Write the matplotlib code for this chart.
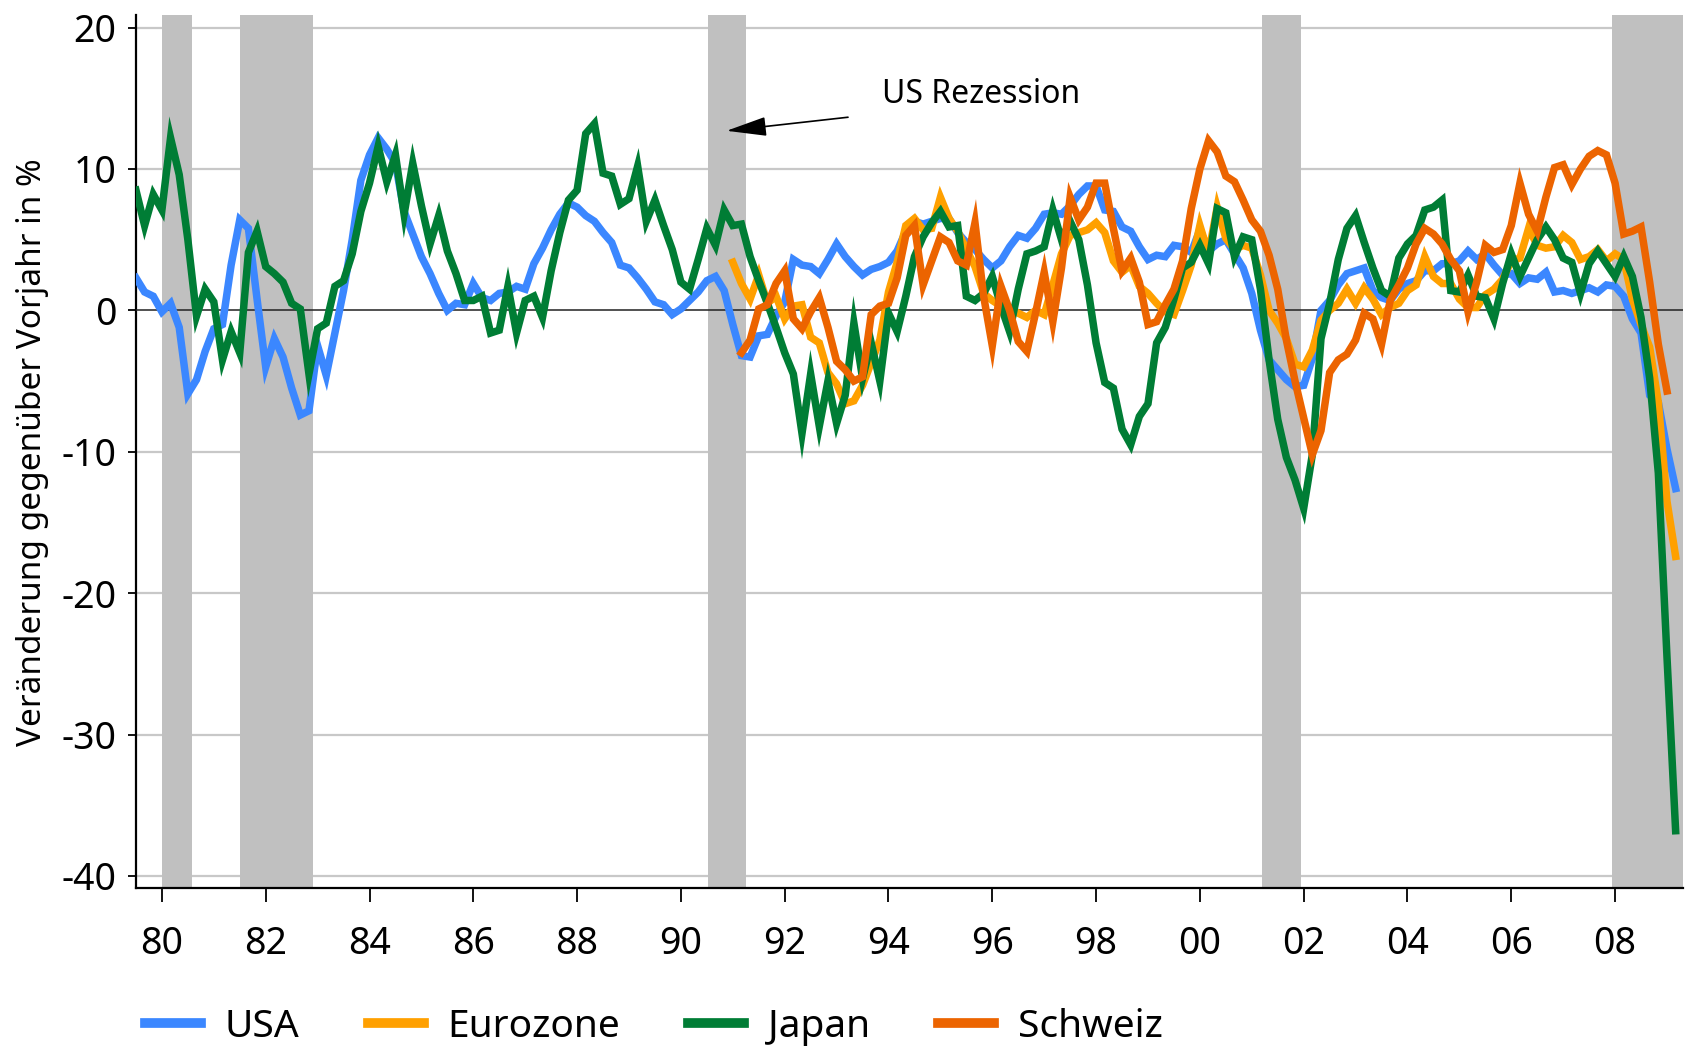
import matplotlib
matplotlib.use("Agg")
import matplotlib.pyplot as plt
import numpy as np
import pandas as pd

# Year-on-year change in %, bimonthly readings
usa = [
    2.3, 1.3, 1.0,
    -0.1, 0.5, -1.2, -5.9, -4.9, -2.9,
    -1.3, -1.0, 3.2, 6.4, 5.8, 0.8,
    -4.0, -2.0, -3.3, -5.5, -7.4, -7.1,
    -2.5, -4.6, -1.6, 1.4, 5.0, 9.2,
    11.0, 12.2, 11.4, 10.4, 7.0, 5.4,
    3.8, 2.6, 1.2, 0.0, 0.5, 0.4,
    1.9, 0.9, 0.7, 1.2, 1.3, 1.7,
    1.5, 3.3, 4.4, 5.7, 6.8, 7.6,
    7.3, 6.7, 6.3, 5.5, 4.8, 3.2,
    3.0, 2.3, 1.5, 0.6, 0.4, -0.3,
    0.1, 0.7, 1.3, 2.1, 2.4, 1.4,
    -1.0, -3.2, -3.3, -1.8, -1.7, -0.4,
    0.6, 3.6, 3.2, 3.1, 2.6, 3.6,
    4.7, 3.8, 3.1, 2.5, 2.9, 3.1,
    3.4, 4.2, 5.6, 6.3, 6.1, 6.3,
    6.5, 6.5, 5.5, 4.8, 4.3, 3.6,
    3.0, 3.5, 4.5, 5.3, 5.1, 5.8,
    6.8, 6.9, 6.8, 7.4, 8.2, 8.8,
    8.8, 7.1, 7.0, 5.9, 5.6, 4.5,
    3.6, 3.9, 3.8, 4.6, 4.5, 4.1,
    5.7, 4.2, 4.7, 5.0, 4.0, 3.0,
    1.2, -1.4, -3.5, -4.2, -4.9, -5.4,
    -5.3, -3.4, 0.0, 0.7, 1.8, 2.6,
    2.8, 3.0, 1.4, 0.9, 0.7, 1.5,
    1.9, 2.1, 2.8, 2.8, 3.3, 3.3,
    3.5, 4.2, 3.6, 4.0, 3.2, 2.5,
    2.6, 1.9, 2.3, 2.2, 2.7, 1.3,
    1.4, 1.2, 1.4, 1.6, 1.3, 1.8,
    1.7, 1.0, -0.6, -1.6, -6.0, -6.5,
    -9.8, -12.6,
]

japan = [
    8.5, 6.0, 8.2,
    7.1, 12.2, 9.6, 5.0, -0.4, 1.5,
    0.6, -3.5, -1.5, -3.0, 4.1, 5.6,
    3.1, 2.6, 2.0, 0.5, 0.1, -4.5,
    -1.3, -0.9, 1.7, 2.1, 4.0, 7.0,
    9.0, 11.6, 9.1, 11.0, 6.8, 10.4,
    7.4, 4.7, 6.7, 4.2, 2.6, 0.7,
    0.7, 1.0, -1.6, -1.4, 1.7, -1.6,
    0.7, 1.0, -0.5, 2.8, 5.5, 7.8,
    8.5, 12.5, 13.2, 9.7, 9.5, 7.5,
    7.9, 10.2, 6.3, 7.8, 6.0, 4.3,
    2.0, 1.5, 3.6, 5.8, 4.6, 7.1,
    6.0, 6.1, 3.8, 2.1, 0.5, -1.2,
    -3.0, -4.5, -8.7, -4.5, -8.2, -5.0,
    -8.0, -6.0, -0.9, -4.8, -2.3, -5.0,
    -0.2, -1.5, 1.0, 3.8, 5.2, 6.2,
    7.0, 5.9, 6.0, 1.0, 0.7, 1.2,
    2.4, 0.3, -1.5, 1.5, 4.0, 4.2,
    4.5, 7.1, 5.0, 6.3, 5.0, 1.8,
    -2.3, -5.1, -5.5, -8.4, -9.5, -7.5,
    -6.6, -2.3, -1.2, 0.8, 3.0, 3.4,
    4.6, 3.3, 7.2, 6.9, 3.8, 5.2,
    5.0, 1.5, -3.5, -7.7, -10.4, -12.0,
    -14.0, -10.2, -2.0, 0.5, 3.6, 5.8,
    6.7, 4.8, 3.0, 1.4, 1.0, 3.7,
    4.7, 5.3, 7.1, 7.3, 7.8, 1.4,
    1.3, 2.5, 1.0, 0.9, -0.6, 1.9,
    4.0, 2.4, 3.7, 5.0, 5.9, 5.0,
    3.7, 3.4, 1.2, 3.3, 4.2, 3.3,
    2.4, 3.8, 2.4, -0.5, -4.8, -11.5,
    -24.5, -36.8,
]

eurozone = [
    3.4, 1.9, 0.8, 2.5, 0.5, 1.0,
    -0.6, 0.3, 0.4, -1.9, -2.3, -4.4,
    -5.2, -6.6, -6.4, -5.3, -3.7, -2.1,
    1.3, 3.4, 6.0, 6.5, 5.7, 5.8,
    8.0, 6.5, 5.6, 4.3, 3.1, 1.2,
    0.7, 0.3, 0.2, -0.2, -0.5, 0.0,
    -0.3, 1.8, 4.0, 5.3, 5.5, 5.7,
    6.2, 5.5, 3.5, 2.7, 3.2, 1.7,
    1.2, 0.5, -0.1, -0.3, 1.4, 3.2,
    6.0, 4.0, 7.3, 5.1, 4.3, 4.6,
    4.4, 2.5, 0.0, -0.9, -2.0, -3.8,
    -4.0, -2.8, -0.7, 0.0, 0.5, 1.5,
    0.5, 1.6, 0.8, -0.3, 0.2, 0.5,
    1.4, 1.8, 3.8, 2.4, 1.9, 1.9,
    0.8, 0.2, 0.2, 1.1, 1.5, 2.2,
    3.5, 3.7, 5.8, 4.6, 4.4, 4.5,
    5.3, 4.8, 3.6, 3.8, 4.3, 3.5,
    4.0, 3.6, 0.8, -1.0, -2.6, -6.5,
    -13.5, -17.4,
]

schweiz = [
    -3.0, -2.1, 0.1, 0.4, 1.9,
    2.8, -0.6, -1.3, -0.1, 0.9, -1.2,
    -3.6, -4.2, -5.0, -4.7, -0.3, 0.3,
    0.5, 2.3, 5.3, 6.0, 1.8, 3.5,
    5.2, 4.8, 3.5, 3.2, 6.2, 1.0,
    -2.5, 1.7, 0.0, -2.2, -2.9, -0.2,
    2.7, -0.8, 3.0, 8.0, 6.4, 7.3,
    9.0, 9.0, 5.8, 2.8, 3.7, 2.0,
    -1.0, -0.8, 0.4, 1.5, 3.5, 7.2,
    10.0, 12.0, 11.2, 9.5, 9.1, 7.8,
    6.4, 5.6, 3.9, 1.5, -2.1, -5.0,
    -7.6, -10.2, -8.5, -4.4, -3.5, -3.1,
    -2.1, -0.2, -0.6, -2.4, 0.7, 1.8,
    3.0, 4.7, 5.8, 5.4, 4.7, 3.6,
    2.8, -0.1, 2.0, 4.6, 4.1, 4.3,
    6.0, 9.0, 6.8, 5.6, 8.0, 10.1,
    10.3, 8.9, 10.0, 10.9, 11.3, 11.0,
    9.0, 5.4, 5.6, 5.9, 2.0, -2.4,
    -5.7,
]

# US recessions (start, end) in decimal years
recessions = [(1980.0, 1980.58), (1981.5, 1982.92), (1990.52, 1991.25),
              (2001.2, 2001.95), (2007.94, 2009.4)]

series = [
    ("USA", usa, "1979-07-01", "#3b87ff"),
    ("Eurozone", eurozone, "1991-01-01", "#ffa000"),
    ("Japan", japan, "1979-07-01", "#007d35"),
    ("Schweiz", schweiz, "1991-03-01", "#ec6400"),
]

FONT = ["Noto Sans", "DejaVu Sans"]
plt.rcParams["font.family"] = FONT


def to_year(start, n):
    d = pd.date_range(start, periods=n, freq="2MS")
    return d.year + (d.month - 1) / 12.0


fig = plt.figure(figsize=(17.08, 10.49), dpi=100)
ax = fig.add_axes([0.0796, 0.1535, 0.9058, 0.8322])

for y in range(-40, 21, 10):
    if y != 0:
        ax.axhline(y, color="#c8c8c8", lw=1.6, zorder=1)
for a, b in recessions:
    ax.axvspan(a, b, color="#c0c0c0", lw=0, zorder=2)
ax.axhline(0, color="#222222", lw=1.1, zorder=3)

for i, (name, vals, start, col) in enumerate(series):
    ax.plot(to_year(start, len(vals)), vals, color=col, lw=5.4,
            solid_joinstyle="miter", label=name, zorder=4 + i)

ax.annotate("", xy=(1990.88, 12.7), xytext=(1993.22, 13.66),
            arrowprops=dict(arrowstyle="-|>,head_length=1.25,head_width=0.3",
                            mutation_scale=20, color="black", lw=1.2,
                            shrinkA=0, shrinkB=0),
            zorder=10)
ax.text(1993.87, 15.25, "US Rezession", fontsize=23, ha="left", va="center")

ax.set_xlim(1979.5, 2009.31)
ax.set_ylim(-40.85, 20.89)
ax.set_yticks(range(-40, 21, 10))
ax.set_yticklabels([str(v) for v in range(-40, 21, 10)])
xt = list(range(1980, 2009, 2))
ax.set_xticks(xt)
ax.set_xticklabels(["%02d" % (v % 100) for v in xt])
ax.tick_params(axis="x", direction="out", length=10, width=1.3, pad=17,
               labelsize=27)
ax.tick_params(axis="y", direction="out", length=6, width=1.3, pad=8,
               labelsize=27)

for s in ("top", "right"):
    ax.spines[s].set_visible(False)
for s in ("left", "bottom"):
    ax.spines[s].set_linewidth(1.6)
    ax.spines[s].set_color("black")

fig.text(33 / 1708, 1 - 452 / 1049, "Veränderung gegenüber Vorjahr in %",
         rotation=90, ha="center", va="center", fontsize=24)

handles, labels = ax.get_legend_handles_labels()
leg = fig.legend(handles, labels, loc="center left",
                 bbox_to_anchor=(145 / 1708, 1 - 1027 / 1049), ncol=4,
                 frameon=False, fontsize=28, handlelength=1.45,
                 handletextpad=0.6, columnspacing=1.75, borderpad=0,
                 borderaxespad=0)
for line in leg.get_lines():
    line.set_linewidth(7)

fig.savefig("out.png", dpi=100)
